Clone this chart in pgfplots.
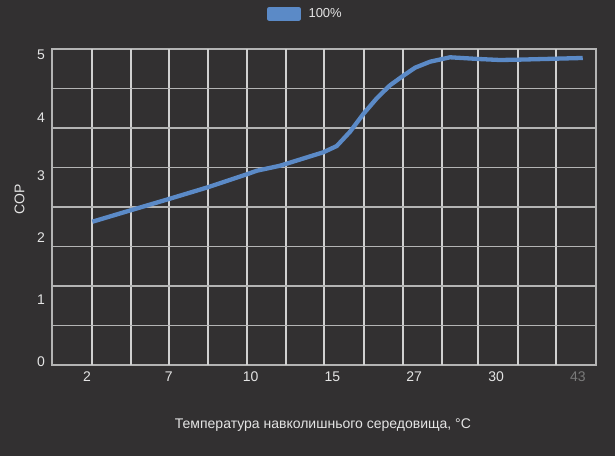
\documentclass[border=0pt]{standalone}
\usepackage{fontspec}
\setmainfont{Liberation Sans}
\usepackage{pgfplots}
\pgfplotsset{compat=1.18}
\definecolor{bg}{HTML}{323031}
\definecolor{hgrid}{HTML}{B4B4B4}
\definecolor{vgrid}{HTML}{D0D0D0}
\definecolor{cline}{HTML}{5B8AC7}
\definecolor{txt}{HTML}{E4E4E4}
\definecolor{dim}{HTML}{7A7A7A}
\begin{document}
\begin{tikzpicture}
\fill[bg] (0,0) rectangle (615pt,456pt);
\begin{axis}[
  at={(52pt,91pt)}, anchor=south west,
  scale only axis, width=544pt, height=316pt,
  xmin=-0.428, xmax=6.222, ymin=0, ymax=5,
  axis line style={draw=hgrid, line width=1.3pt},
  major tick length=0pt,
  xtick={0,1,2,3,4,5,6},
  xticklabels={2,7,10,15,27,30,\textcolor{dim}{43}},
  ytick={0.047,1.028,2.01,2.994,3.908,4.905},
  yticklabels={0,1,2,3,4,5},
  tick label style={font=\fontsize{14}{16}\selectfont, text=txt},
  xticklabel style={anchor=base, yshift=-16pt},
  yticklabel style={anchor=east, inner sep=0pt, xshift=-7pt},
  extra x ticks={0.061,0.538,1.002,1.479,1.956,2.433,2.897,3.386,3.863,4.34,4.78,5.269,5.733},
  extra x tick labels={},
  extra x tick style={grid=major, major grid style={draw=vgrid, line width=1.1pt}},
  extra y ticks={0.625,1.25,1.875,2.5,3.125,3.75,4.375},
  extra y tick labels={},
  extra y tick style={grid=major, major grid style={draw=hgrid, line width=1.5pt}},
  xlabel={Температура навколишнього середовища, °C},
  xlabel style={at={(rel axis cs:0.498,-0.19)}, anchor=center, font=\fontsize{14}{16}\selectfont, text=txt},
  ylabel={COP},
  ylabel style={at={(rel axis cs:-0.0597,0.5237)}, anchor=center, rotate=0, font=\fontsize{14}{16}\selectfont, text=txt},
  legend style={at={(0.466,1.111)}, anchor=center, draw=none, fill=none,
    font=\fontsize{13}{15}\selectfont, text=txt,
    /tikz/every odd column/.append style={column sep=6pt}},
  legend image code/.code={\fill[cline] (0pt,-5pt) rectangle (29pt,5pt);},
]
\addplot[cline, line width=4.3pt, line join=round] coordinates {
(0.065,2.267) (0.546,2.453) (1.002,2.627) (1.476,2.812) (1.952,3.017)
(2.075,3.074) (2.359,3.153) (2.889,3.366) (3.053,3.465) (3.215,3.691)
(3.378,3.972) (3.542,4.220) (3.704,4.426) (3.867,4.578) (4.010,4.704)
(4.193,4.799) (4.438,4.869) (4.784,4.842) (5.049,4.826) (5.265,4.831)
(5.737,4.847) (6.060,4.858)
};
\addlegendentry{100\%}
\end{axis}
\end{tikzpicture}
\end{document}
